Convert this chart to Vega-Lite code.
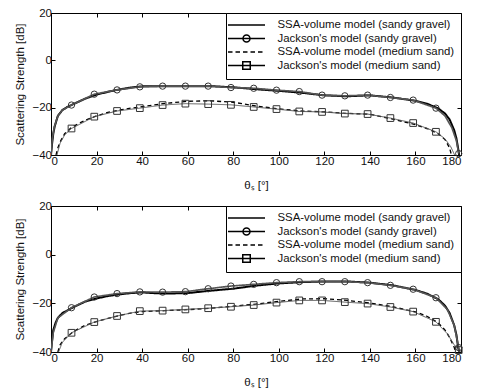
{
  "$schema": "https://vega.github.io/schema/vega-lite/v6.json",
  "padding": {"left": 14, "top": 6, "right": 5, "bottom": 0},
  "spacing": 7,
  "datasets": {
    "top": [
      {"series": "SSA-volume model (sandy gravel)", "x": 0, "y": -40},
      {"series": "SSA-volume model (sandy gravel)", "x": 0.5, "y": -35},
      {"series": "SSA-volume model (sandy gravel)", "x": 1, "y": -31},
      {"series": "SSA-volume model (sandy gravel)", "x": 1.6, "y": -28},
      {"series": "SSA-volume model (sandy gravel)", "x": 3, "y": -23.5},
      {"series": "SSA-volume model (sandy gravel)", "x": 5, "y": -21},
      {"series": "SSA-volume model (sandy gravel)", "x": 7, "y": -19.8},
      {"series": "SSA-volume model (sandy gravel)", "x": 10, "y": -18.4},
      {"series": "SSA-volume model (sandy gravel)", "x": 15, "y": -16.2},
      {"series": "SSA-volume model (sandy gravel)", "x": 20, "y": -14.5},
      {"series": "SSA-volume model (sandy gravel)", "x": 25, "y": -13.3},
      {"series": "SSA-volume model (sandy gravel)", "x": 30, "y": -12.3},
      {"series": "SSA-volume model (sandy gravel)", "x": 35, "y": -11.5},
      {"series": "SSA-volume model (sandy gravel)", "x": 40, "y": -11},
      {"series": "SSA-volume model (sandy gravel)", "x": 50, "y": -10.9},
      {"series": "SSA-volume model (sandy gravel)", "x": 60, "y": -10.9},
      {"series": "SSA-volume model (sandy gravel)", "x": 70, "y": -10.9},
      {"series": "SSA-volume model (sandy gravel)", "x": 80, "y": -11.4},
      {"series": "SSA-volume model (sandy gravel)", "x": 90, "y": -12.2},
      {"series": "SSA-volume model (sandy gravel)", "x": 100, "y": -12.9},
      {"series": "SSA-volume model (sandy gravel)", "x": 110, "y": -13.7},
      {"series": "SSA-volume model (sandy gravel)", "x": 120, "y": -14.8},
      {"series": "SSA-volume model (sandy gravel)", "x": 130, "y": -15.2},
      {"series": "SSA-volume model (sandy gravel)", "x": 140, "y": -14.8},
      {"series": "SSA-volume model (sandy gravel)", "x": 150, "y": -15.7},
      {"series": "SSA-volume model (sandy gravel)", "x": 160, "y": -17.1},
      {"series": "SSA-volume model (sandy gravel)", "x": 165, "y": -18.3},
      {"series": "SSA-volume model (sandy gravel)", "x": 170, "y": -20.3},
      {"series": "SSA-volume model (sandy gravel)", "x": 173, "y": -22.5},
      {"series": "SSA-volume model (sandy gravel)", "x": 175, "y": -25},
      {"series": "SSA-volume model (sandy gravel)", "x": 177, "y": -29.5},
      {"series": "SSA-volume model (sandy gravel)", "x": 178, "y": -33},
      {"series": "SSA-volume model (sandy gravel)", "x": 178.7, "y": -37},
      {"series": "SSA-volume model (sandy gravel)", "x": 179.2, "y": -40},

      {"series": "Jackson's model (sandy gravel)", "x": 0, "y": -40},
      {"series": "Jackson's model (sandy gravel)", "x": 0.6, "y": -33},
      {"series": "Jackson's model (sandy gravel)", "x": 1.5, "y": -28},
      {"series": "Jackson's model (sandy gravel)", "x": 3, "y": -23.5},
      {"series": "Jackson's model (sandy gravel)", "x": 5, "y": -21},
      {"series": "Jackson's model (sandy gravel)", "x": 9, "y": -18.9},
      {"series": "Jackson's model (sandy gravel)", "x": 19, "y": -14.3},
      {"series": "Jackson's model (sandy gravel)", "x": 29, "y": -12.5},
      {"series": "Jackson's model (sandy gravel)", "x": 39, "y": -11.2},
      {"series": "Jackson's model (sandy gravel)", "x": 49, "y": -10.9},
      {"series": "Jackson's model (sandy gravel)", "x": 59, "y": -10.9},
      {"series": "Jackson's model (sandy gravel)", "x": 69, "y": -10.9},
      {"series": "Jackson's model (sandy gravel)", "x": 79, "y": -11.5},
      {"series": "Jackson's model (sandy gravel)", "x": 89, "y": -11.8},
      {"series": "Jackson's model (sandy gravel)", "x": 99, "y": -12.6},
      {"series": "Jackson's model (sandy gravel)", "x": 109, "y": -13.2},
      {"series": "Jackson's model (sandy gravel)", "x": 119, "y": -14.7},
      {"series": "Jackson's model (sandy gravel)", "x": 129, "y": -15},
      {"series": "Jackson's model (sandy gravel)", "x": 139, "y": -14.7},
      {"series": "Jackson's model (sandy gravel)", "x": 149, "y": -15.7},
      {"series": "Jackson's model (sandy gravel)", "x": 159, "y": -16.8},
      {"series": "Jackson's model (sandy gravel)", "x": 169, "y": -20.2},
      {"series": "Jackson's model (sandy gravel)", "x": 173, "y": -23.5},
      {"series": "Jackson's model (sandy gravel)", "x": 176, "y": -28.5},
      {"series": "Jackson's model (sandy gravel)", "x": 178, "y": -34},
      {"series": "Jackson's model (sandy gravel)", "x": 179, "y": -39.4},

      {"series": "SSA-volume model (medium sand)", "x": 2.2, "y": -40},
      {"series": "SSA-volume model (medium sand)", "x": 3, "y": -37},
      {"series": "SSA-volume model (medium sand)", "x": 4, "y": -34.5},
      {"series": "SSA-volume model (medium sand)", "x": 6, "y": -31},
      {"series": "SSA-volume model (medium sand)", "x": 9, "y": -28.3},
      {"series": "SSA-volume model (medium sand)", "x": 15, "y": -25.3},
      {"series": "SSA-volume model (medium sand)", "x": 20, "y": -23.5},
      {"series": "SSA-volume model (medium sand)", "x": 25, "y": -22},
      {"series": "SSA-volume model (medium sand)", "x": 30, "y": -21},
      {"series": "SSA-volume model (medium sand)", "x": 35, "y": -20.2},
      {"series": "SSA-volume model (medium sand)", "x": 40, "y": -19.6},
      {"series": "SSA-volume model (medium sand)", "x": 50, "y": -18.2},
      {"series": "SSA-volume model (medium sand)", "x": 60, "y": -17.3},
      {"series": "SSA-volume model (medium sand)", "x": 70, "y": -17.1},
      {"series": "SSA-volume model (medium sand)", "x": 80, "y": -17.7},
      {"series": "SSA-volume model (medium sand)", "x": 90, "y": -19.3},
      {"series": "SSA-volume model (medium sand)", "x": 100, "y": -20.5},
      {"series": "SSA-volume model (medium sand)", "x": 110, "y": -21.4},
      {"series": "SSA-volume model (medium sand)", "x": 120, "y": -21.8},
      {"series": "SSA-volume model (medium sand)", "x": 130, "y": -22.4},
      {"series": "SSA-volume model (medium sand)", "x": 140, "y": -22.8},
      {"series": "SSA-volume model (medium sand)", "x": 150, "y": -24.8},
      {"series": "SSA-volume model (medium sand)", "x": 160, "y": -27.2},
      {"series": "SSA-volume model (medium sand)", "x": 165, "y": -28.8},
      {"series": "SSA-volume model (medium sand)", "x": 170, "y": -31},
      {"series": "SSA-volume model (medium sand)", "x": 173, "y": -33.5},
      {"series": "SSA-volume model (medium sand)", "x": 175, "y": -37},
      {"series": "SSA-volume model (medium sand)", "x": 175.8, "y": -40},

      {"series": "Jackson's model (medium sand)", "x": 2.6, "y": -40},
      {"series": "Jackson's model (medium sand)", "x": 4, "y": -35},
      {"series": "Jackson's model (medium sand)", "x": 6, "y": -31.5},
      {"series": "Jackson's model (medium sand)", "x": 9, "y": -28.8},
      {"series": "Jackson's model (medium sand)", "x": 19, "y": -23.8},
      {"series": "Jackson's model (medium sand)", "x": 29, "y": -21.4},
      {"series": "Jackson's model (medium sand)", "x": 39, "y": -20.2},
      {"series": "Jackson's model (medium sand)", "x": 49, "y": -18.9},
      {"series": "Jackson's model (medium sand)", "x": 59, "y": -18.3},
      {"series": "Jackson's model (medium sand)", "x": 69, "y": -18.5},
      {"series": "Jackson's model (medium sand)", "x": 79, "y": -18.8},
      {"series": "Jackson's model (medium sand)", "x": 89, "y": -19.7},
      {"series": "Jackson's model (medium sand)", "x": 99, "y": -20.6},
      {"series": "Jackson's model (medium sand)", "x": 109, "y": -21.6},
      {"series": "Jackson's model (medium sand)", "x": 119, "y": -21.8},
      {"series": "Jackson's model (medium sand)", "x": 129, "y": -22.5},
      {"series": "Jackson's model (medium sand)", "x": 139, "y": -22.7},
      {"series": "Jackson's model (medium sand)", "x": 149, "y": -24.4},
      {"series": "Jackson's model (medium sand)", "x": 159, "y": -26.5},
      {"series": "Jackson's model (medium sand)", "x": 169, "y": -30.2},
      {"series": "Jackson's model (medium sand)", "x": 173, "y": -33.2},
      {"series": "Jackson's model (medium sand)", "x": 175.5, "y": -36.5},
      {"series": "Jackson's model (medium sand)", "x": 177.2, "y": -40}
    ],
    "bottom": [
      {"series": "SSA-volume model (sandy gravel)", "x": 0, "y": -40},
      {"series": "SSA-volume model (sandy gravel)", "x": 0.5, "y": -35},
      {"series": "SSA-volume model (sandy gravel)", "x": 1, "y": -31},
      {"series": "SSA-volume model (sandy gravel)", "x": 2, "y": -28},
      {"series": "SSA-volume model (sandy gravel)", "x": 3, "y": -26},
      {"series": "SSA-volume model (sandy gravel)", "x": 5, "y": -24},
      {"series": "SSA-volume model (sandy gravel)", "x": 10, "y": -21.5},
      {"series": "SSA-volume model (sandy gravel)", "x": 15, "y": -19.3},
      {"series": "SSA-volume model (sandy gravel)", "x": 20, "y": -18},
      {"series": "SSA-volume model (sandy gravel)", "x": 25, "y": -17},
      {"series": "SSA-volume model (sandy gravel)", "x": 30, "y": -16.3},
      {"series": "SSA-volume model (sandy gravel)", "x": 35, "y": -15.8},
      {"series": "SSA-volume model (sandy gravel)", "x": 40, "y": -15.5},
      {"series": "SSA-volume model (sandy gravel)", "x": 45, "y": -15.8},
      {"series": "SSA-volume model (sandy gravel)", "x": 50, "y": -16},
      {"series": "SSA-volume model (sandy gravel)", "x": 60, "y": -15.8},
      {"series": "SSA-volume model (sandy gravel)", "x": 70, "y": -14.8},
      {"series": "SSA-volume model (sandy gravel)", "x": 80, "y": -14},
      {"series": "SSA-volume model (sandy gravel)", "x": 90, "y": -12.7},
      {"series": "SSA-volume model (sandy gravel)", "x": 100, "y": -11.8},
      {"series": "SSA-volume model (sandy gravel)", "x": 110, "y": -11.3},
      {"series": "SSA-volume model (sandy gravel)", "x": 120, "y": -11},
      {"series": "SSA-volume model (sandy gravel)", "x": 130, "y": -11},
      {"series": "SSA-volume model (sandy gravel)", "x": 140, "y": -11.5},
      {"series": "SSA-volume model (sandy gravel)", "x": 150, "y": -12.6},
      {"series": "SSA-volume model (sandy gravel)", "x": 160, "y": -14.5},
      {"series": "SSA-volume model (sandy gravel)", "x": 165, "y": -16},
      {"series": "SSA-volume model (sandy gravel)", "x": 170, "y": -18.3},
      {"series": "SSA-volume model (sandy gravel)", "x": 173, "y": -21},
      {"series": "SSA-volume model (sandy gravel)", "x": 175, "y": -24},
      {"series": "SSA-volume model (sandy gravel)", "x": 177, "y": -29},
      {"series": "SSA-volume model (sandy gravel)", "x": 178, "y": -33},
      {"series": "SSA-volume model (sandy gravel)", "x": 178.8, "y": -38.5},
      {"series": "SSA-volume model (sandy gravel)", "x": 179.4, "y": -40},

      {"series": "Jackson's model (sandy gravel)", "x": 0, "y": -40},
      {"series": "Jackson's model (sandy gravel)", "x": 1, "y": -32},
      {"series": "Jackson's model (sandy gravel)", "x": 3, "y": -26},
      {"series": "Jackson's model (sandy gravel)", "x": 9, "y": -21.8},
      {"series": "Jackson's model (sandy gravel)", "x": 19, "y": -17.4},
      {"series": "Jackson's model (sandy gravel)", "x": 29, "y": -16},
      {"series": "Jackson's model (sandy gravel)", "x": 39, "y": -15.3},
      {"series": "Jackson's model (sandy gravel)", "x": 49, "y": -15.4},
      {"series": "Jackson's model (sandy gravel)", "x": 59, "y": -15.2},
      {"series": "Jackson's model (sandy gravel)", "x": 69, "y": -14},
      {"series": "Jackson's model (sandy gravel)", "x": 79, "y": -12.9},
      {"series": "Jackson's model (sandy gravel)", "x": 89, "y": -12.2},
      {"series": "Jackson's model (sandy gravel)", "x": 99, "y": -11.5},
      {"series": "Jackson's model (sandy gravel)", "x": 109, "y": -11.1},
      {"series": "Jackson's model (sandy gravel)", "x": 119, "y": -11.1},
      {"series": "Jackson's model (sandy gravel)", "x": 129, "y": -11.1},
      {"series": "Jackson's model (sandy gravel)", "x": 139, "y": -11.5},
      {"series": "Jackson's model (sandy gravel)", "x": 149, "y": -12.6},
      {"series": "Jackson's model (sandy gravel)", "x": 159, "y": -14.2},
      {"series": "Jackson's model (sandy gravel)", "x": 169, "y": -17.7},
      {"series": "Jackson's model (sandy gravel)", "x": 174, "y": -22.5},
      {"series": "Jackson's model (sandy gravel)", "x": 177, "y": -29},
      {"series": "Jackson's model (sandy gravel)", "x": 179, "y": -38.2},
      {"series": "Jackson's model (sandy gravel)", "x": 179.3, "y": -40},

      {"series": "SSA-volume model (medium sand)", "x": 3, "y": -40},
      {"series": "SSA-volume model (medium sand)", "x": 4, "y": -37},
      {"series": "SSA-volume model (medium sand)", "x": 6, "y": -34.5},
      {"series": "SSA-volume model (medium sand)", "x": 10, "y": -31.5},
      {"series": "SSA-volume model (medium sand)", "x": 15, "y": -29},
      {"series": "SSA-volume model (medium sand)", "x": 20, "y": -27.5},
      {"series": "SSA-volume model (medium sand)", "x": 25, "y": -26.2},
      {"series": "SSA-volume model (medium sand)", "x": 30, "y": -25},
      {"series": "SSA-volume model (medium sand)", "x": 35, "y": -24},
      {"series": "SSA-volume model (medium sand)", "x": 40, "y": -23.4},
      {"series": "SSA-volume model (medium sand)", "x": 50, "y": -23},
      {"series": "SSA-volume model (medium sand)", "x": 60, "y": -22.6},
      {"series": "SSA-volume model (medium sand)", "x": 70, "y": -22},
      {"series": "SSA-volume model (medium sand)", "x": 80, "y": -21.2},
      {"series": "SSA-volume model (medium sand)", "x": 90, "y": -20.3},
      {"series": "SSA-volume model (medium sand)", "x": 100, "y": -19.2},
      {"series": "SSA-volume model (medium sand)", "x": 110, "y": -18.2},
      {"series": "SSA-volume model (medium sand)", "x": 120, "y": -18.1},
      {"series": "SSA-volume model (medium sand)", "x": 130, "y": -18.8},
      {"series": "SSA-volume model (medium sand)", "x": 140, "y": -19.9},
      {"series": "SSA-volume model (medium sand)", "x": 150, "y": -21.4},
      {"series": "SSA-volume model (medium sand)", "x": 160, "y": -23.5},
      {"series": "SSA-volume model (medium sand)", "x": 165, "y": -25.3},
      {"series": "SSA-volume model (medium sand)", "x": 170, "y": -28},
      {"series": "SSA-volume model (medium sand)", "x": 173, "y": -31},
      {"series": "SSA-volume model (medium sand)", "x": 175, "y": -34},
      {"series": "SSA-volume model (medium sand)", "x": 177, "y": -38},
      {"series": "SSA-volume model (medium sand)", "x": 177.6, "y": -40},

      {"series": "Jackson's model (medium sand)", "x": 3.3, "y": -40},
      {"series": "Jackson's model (medium sand)", "x": 5, "y": -36},
      {"series": "Jackson's model (medium sand)", "x": 9, "y": -32.1},
      {"series": "Jackson's model (medium sand)", "x": 19, "y": -27.7},
      {"series": "Jackson's model (medium sand)", "x": 29, "y": -25.2},
      {"series": "Jackson's model (medium sand)", "x": 39, "y": -23.2},
      {"series": "Jackson's model (medium sand)", "x": 49, "y": -23},
      {"series": "Jackson's model (medium sand)", "x": 59, "y": -22.5},
      {"series": "Jackson's model (medium sand)", "x": 69, "y": -22},
      {"series": "Jackson's model (medium sand)", "x": 79, "y": -21.4},
      {"series": "Jackson's model (medium sand)", "x": 89, "y": -20.7},
      {"series": "Jackson's model (medium sand)", "x": 99, "y": -19.7},
      {"series": "Jackson's model (medium sand)", "x": 109, "y": -18.8},
      {"series": "Jackson's model (medium sand)", "x": 119, "y": -18.8},
      {"series": "Jackson's model (medium sand)", "x": 129, "y": -19.5},
      {"series": "Jackson's model (medium sand)", "x": 139, "y": -20.1},
      {"series": "Jackson's model (medium sand)", "x": 149, "y": -21.5},
      {"series": "Jackson's model (medium sand)", "x": 159, "y": -23.4},
      {"series": "Jackson's model (medium sand)", "x": 169, "y": -27.6},
      {"series": "Jackson's model (medium sand)", "x": 174, "y": -32.5},
      {"series": "Jackson's model (medium sand)", "x": 177, "y": -37},
      {"series": "Jackson's model (medium sand)", "x": 179, "y": -39.2}
    ]
  },
  "resolve": {"scale": {"shape": "independent"}, "legend": {"shape": "independent"}},
  "vconcat": [
    {
      "width": 410, "height": 142,
      "data": {"name": "top"},
      "layer": [
        {
          "mark": {"type": "line", "clip": true},
          "encoding": {
            "x": {"field": "x", "type": "quantitative", "title": "θₛ [°]", "scale": {"domain": [0, 180], "nice": false}, "axis": {"orient": "bottom", "values": [0,20,40,60,80,100,120,140,160,180]}},
            "y": {"field": "y", "type": "quantitative", "title": "Scattering Strength [dB]", "scale": {"domain": [-40, 20], "nice": false}, "axis": {"orient": "left", "values": [-40,-20,0,20]}},
            "detail": {"field": "series"},
            "strokeDash": {"field": "series", "type": "nominal", "scale": {"domain": ["SSA-volume model (sandy gravel)", "Jackson's model (sandy gravel)", "SSA-volume model (medium sand)", "Jackson's model (medium sand)"], "range": [[1,0],[1,0],[4,3],[1,0]]}, "legend": null},
            "strokeWidth": {"field": "series", "type": "nominal", "scale": {"domain": ["SSA-volume model (sandy gravel)", "Jackson's model (sandy gravel)", "SSA-volume model (medium sand)", "Jackson's model (medium sand)"], "range": [2, 1, 2, 1]}, "legend": null},
            "color": {"field": "series", "type": "nominal", "scale": {"domain": ["SSA-volume model (sandy gravel)", "Jackson's model (sandy gravel)", "SSA-volume model (medium sand)", "Jackson's model (medium sand)"], "range": ["#000000", "#555555", "#000000", "#555555"]}, "legend": null}
          }
        },
        {
          "transform": [{"filter": "datum.series == \"Jackson's model (sandy gravel)\" && datum.x % 10 == 9"}],
          "mark": {"type": "point", "shape": "circle", "filled": false, "size": 40, "color": "#333333", "strokeWidth": 1, "opacity": 1},
          "encoding": {
            "x": {"field": "x", "type": "quantitative", "axis": null},
            "y": {"field": "y", "type": "quantitative", "axis": null}
          }
        },
        {
          "transform": [{"filter": "datum.series == \"Jackson's model (medium sand)\" && datum.x % 10 == 9"}],
          "mark": {"type": "point", "shape": "square", "filled": false, "size": 45, "color": "#333333", "strokeWidth": 1, "opacity": 1},
          "encoding": {
            "x": {"field": "x", "type": "quantitative", "axis": null},
            "y": {"field": "y", "type": "quantitative", "axis": null}
          }
        },
        {
          "transform": [{"filter": "datum.x < -999"}],
          "mark": {"type": "point", "color": "black", "filled": false, "opacity": 1},
          "encoding": {
            "x": {"field": "x", "type": "quantitative", "axis": {"orient": "top", "labels": false, "title": null, "values": [0,20,40,60,80,100,120,140,160,180]}},
            "y": {"field": "y", "type": "quantitative", "axis": {"orient": "right", "labels": false, "title": null, "values": [-40,-20,0,20]}},
            "shape": {
              "field": "series", "type": "nominal",
              "scale": {
                "domain": ["SSA-volume model (sandy gravel)", "Jackson's model (sandy gravel)", "SSA-volume model (medium sand)", "Jackson's model (medium sand)"],
                "range": [
                  "M-3.7,0H3.7",
                  "M-3.7,0H3.7M-0.7,0A0.7,0.7 0 1,1 0.7,0A0.7,0.7 0 1,1 -0.7,0",
                  "M-3.7,0H-2.8M-2.2,0H-1.3M-0.7,0H0.2M0.8,0H1.7M2.3,0H3.2",
                  "M-3.7,0H3.7M-0.75,-0.75H0.75V0.75H-0.75Z"
                ]
              },
              "legend": {
                "title": null, "orient": "top-right", "offset": 0, "padding": 6,
                "strokeColor": "black", "fillColor": "white",
                "symbolSize": 100, "symbolOffset": 8.5, "labelOffset": 25, "rowPadding": 0.5,
                "labelFont": "Liberation Sans", "labelFontSize": 11.4, "labelColor": "#111111", "labelLimit": 300,
                "symbolStrokeColor": "black", "symbolFillColor": "transparent",
                "encode": {"symbols": {"update": {
                  "strokeWidth": {"signal": "indexof(datum.value, 'SSA') == 0 ? 2 : 1"},
                  "stroke": {"signal": "indexof(datum.value, 'SSA') == 0 ? '#000000' : '#444444'"}
                }}}
              }
            }
          }
        }
      ]
    },
    {
      "width": 410, "height": 146,
      "data": {"name": "bottom"},
      "layer": [
        {
          "mark": {"type": "line", "clip": true},
          "encoding": {
            "x": {"field": "x", "type": "quantitative", "title": "θₛ [°]", "scale": {"domain": [0, 180], "nice": false}, "axis": {"orient": "bottom", "values": [0,20,40,60,80,100,120,140,160,180]}},
            "y": {"field": "y", "type": "quantitative", "title": "Scattering Strength [dB]", "scale": {"domain": [-40, 20], "nice": false}, "axis": {"orient": "left", "values": [-40,-20,0,20]}},
            "detail": {"field": "series"},
            "strokeDash": {"field": "series", "type": "nominal", "scale": {"domain": ["SSA-volume model (sandy gravel)", "Jackson's model (sandy gravel)", "SSA-volume model (medium sand)", "Jackson's model (medium sand)"], "range": [[1,0],[1,0],[4,3],[1,0]]}, "legend": null},
            "strokeWidth": {"field": "series", "type": "nominal", "scale": {"domain": ["SSA-volume model (sandy gravel)", "Jackson's model (sandy gravel)", "SSA-volume model (medium sand)", "Jackson's model (medium sand)"], "range": [2, 1, 2, 1]}, "legend": null},
            "color": {"field": "series", "type": "nominal", "scale": {"domain": ["SSA-volume model (sandy gravel)", "Jackson's model (sandy gravel)", "SSA-volume model (medium sand)", "Jackson's model (medium sand)"], "range": ["#000000", "#555555", "#000000", "#555555"]}, "legend": null}
          }
        },
        {
          "transform": [{"filter": "datum.series == \"Jackson's model (sandy gravel)\" && datum.x % 10 == 9"}],
          "mark": {"type": "point", "shape": "circle", "filled": false, "size": 40, "color": "#333333", "strokeWidth": 1, "opacity": 1},
          "encoding": {
            "x": {"field": "x", "type": "quantitative", "axis": null},
            "y": {"field": "y", "type": "quantitative", "axis": null}
          }
        },
        {
          "transform": [{"filter": "datum.series == \"Jackson's model (medium sand)\" && datum.x % 10 == 9"}],
          "mark": {"type": "point", "shape": "square", "filled": false, "size": 45, "color": "#333333", "strokeWidth": 1, "opacity": 1},
          "encoding": {
            "x": {"field": "x", "type": "quantitative", "axis": null},
            "y": {"field": "y", "type": "quantitative", "axis": null}
          }
        },
        {
          "transform": [{"filter": "datum.x < -999"}],
          "mark": {"type": "point", "color": "black", "filled": false, "opacity": 1},
          "encoding": {
            "x": {"field": "x", "type": "quantitative", "axis": {"orient": "top", "labels": false, "title": null, "values": [0,20,40,60,80,100,120,140,160,180]}},
            "y": {"field": "y", "type": "quantitative", "axis": {"orient": "right", "labels": false, "title": null, "values": [-40,-20,0,20]}},
            "shape": {
              "field": "series", "type": "nominal",
              "scale": {
                "domain": ["SSA-volume model (sandy gravel)", "Jackson's model (sandy gravel)", "SSA-volume model (medium sand)", "Jackson's model (medium sand)"],
                "range": [
                  "M-3.7,0H3.7",
                  "M-3.7,0H3.7M-0.7,0A0.7,0.7 0 1,1 0.7,0A0.7,0.7 0 1,1 -0.7,0",
                  "M-3.7,0H-2.8M-2.2,0H-1.3M-0.7,0H0.2M0.8,0H1.7M2.3,0H3.2",
                  "M-3.7,0H3.7M-0.75,-0.75H0.75V0.75H-0.75Z"
                ]
              },
              "legend": {
                "title": null, "orient": "top-right", "offset": 0, "padding": 6,
                "strokeColor": "black", "fillColor": "white",
                "symbolSize": 100, "symbolOffset": 8.5, "labelOffset": 25, "rowPadding": 0.5,
                "labelFont": "Liberation Sans", "labelFontSize": 11.4, "labelColor": "#111111", "labelLimit": 300,
                "symbolStrokeColor": "black", "symbolFillColor": "transparent",
                "encode": {"symbols": {"update": {
                  "strokeWidth": {"signal": "indexof(datum.value, 'SSA') == 0 ? 2 : 1"},
                  "stroke": {"signal": "indexof(datum.value, 'SSA') == 0 ? '#000000' : '#444444'"}
                }}}
              }
            }
          }
        }
      ]
    }
  ],
  "config": {
    "font": "Liberation Sans",
    "view": {"stroke": "black", "strokeWidth": 1},
    "axis": {
      "grid": false, "domain": false, "ticks": true, "tickSize": -4, "tickColor": "black", "tickWidth": 1,
      "labelPadding": 2, "labelFont": "Liberation Sans", "labelFontSize": 11.5, "labelColor": "#111111",
      "titleFont": "Liberation Sans", "titleFontSize": 11.5, "titleFontWeight": "normal", "titleColor": "#111111"
    },
    "axisX": {"titlePadding": 13, "labelPadding": 4},
    "axisY": {"titlePadding": 6, "labelPadding": 3.5}
  }
}
